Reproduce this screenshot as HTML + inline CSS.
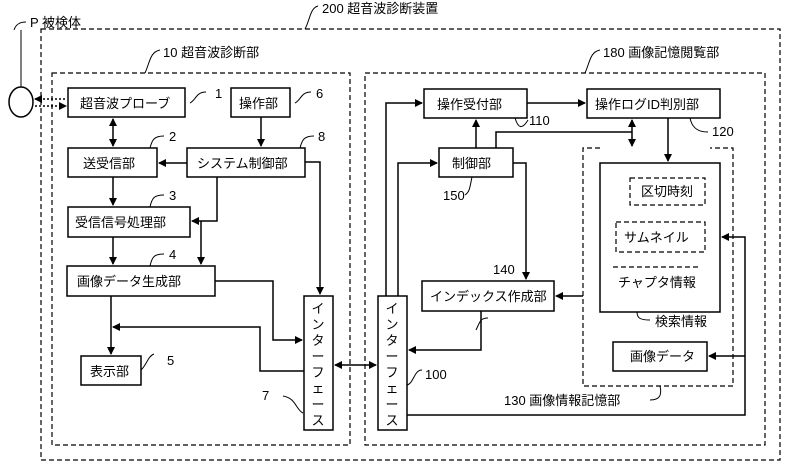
<!DOCTYPE html><html><head><meta charset="utf-8"><style>body{margin:0;background:#fff}svg{display:block}text{font-family:"Liberation Sans","Noto Sans CJK JP",sans-serif;font-size:13px;fill:#000}</style></head><body>
<svg width="787" height="473" viewBox="0 0 787 473" xmlns="http://www.w3.org/2000/svg">
<defs><marker id="a" markerWidth="8" markerHeight="8" refX="7" refY="4" orient="auto" markerUnits="userSpaceOnUse"><path d="M0,0L8,4L0,8z" fill="#000"/></marker>
<marker id="b" markerWidth="8" markerHeight="8" refX="1" refY="4" orient="auto" markerUnits="userSpaceOnUse"><path d="M8,0L0,4L8,8z" fill="#000"/></marker></defs>
<g fill="none" stroke="#000" stroke-width="1.2" stroke-dasharray="5,3">
<rect x="41" y="29" width="739" height="431"/>
<rect x="52" y="73" width="298" height="372"/>
<rect x="365" y="73" width="400" height="372"/>
<path d="M600,148H583V386H733V148H710"/>
</g>
<g fill="none" stroke="#000" stroke-width="1">
<path d="M14,30C16,24 20,22 26,22M21,30V87"/>
<path d="M305,29C310,20 310,8 318,6"/>
<path d="M145,73C150,62 150,52 160,50"/>
<path d="M585,73C590,62 590,52 600,50"/>
<path d="M190,103C196,100 196,92 206,92"/>
<path d="M295,103C301,100 301,92 311,92"/>
<path d="M150,148C152,140 154,136 164,136"/>
<path d="M300,148C302,140 304,136 314,136"/>
<path d="M150,207C152,198 154,195 164,195"/>
<path d="M150,266C152,257 154,254 164,254"/>
<path d="M141,370C146,366 148,356 154,354"/>
<path d="M303,413C296,410 296,398 283,396"/>
<path d="M407,385C414,383 414,370 422,370"/>
<path d="M515,118C518,128 522,130 528,120"/>
<path d="M690,118C692,128 698,132 708,132"/>
<path d="M476,330C480,322 480,318 488,318"/>
<path d="M465,195C470,192 470,186 472,177"/>
<path d="M637,312C637,318 640,320 650,320"/>
<path d="M660,386C662,395 660,400 650,400"/>
</g>
<g fill="#fff" stroke="#000" stroke-width="1.5">
<ellipse cx="21" cy="102" rx="12" ry="15"/>
<rect x="68" y="88" width="117" height="29"/>
<rect x="231" y="88" width="59" height="29"/>
<rect x="68" y="148" width="89" height="29"/>
<rect x="187" y="148" width="118" height="29"/>
<rect x="68" y="207" width="122" height="30"/>
<rect x="67" y="266" width="148" height="30"/>
<rect x="81" y="356" width="60" height="29"/>
<rect x="304" y="296" width="29" height="134"/>
<rect x="378" y="296" width="29" height="134"/>
<rect x="424" y="89" width="103" height="29"/>
<rect x="587" y="89" width="133" height="29"/>
<rect x="439" y="148" width="74" height="29"/>
<rect x="422" y="281" width="132" height="30"/>
<rect x="600" y="163" width="120" height="149"/>
<rect x="613" y="342" width="94" height="29"/>
</g>
<g fill="none" stroke="#000" stroke-width="1.2" stroke-dasharray="5,3">
<rect x="630" y="178" width="75" height="27"/>
<rect x="616" y="222" width="89" height="30"/>
<path d="M613,267H700"/>
</g>
<g fill="none" stroke="#000" stroke-width="1.5">
<path d="M35,99H66" stroke-dasharray="2,2" marker-start="url(#b)"/>
<path d="M35,106H66" stroke-dasharray="2,2" marker-end="url(#a)"/>
<path d="M113,119V146" marker-start="url(#b)" marker-end="url(#a)"/>
<path d="M261,117V146" marker-end="url(#a)"/>
<path d="M187,163H159" marker-end="url(#a)"/>
<path d="M113,177V205" marker-end="url(#a)"/>
<path d="M217,177V221H192" marker-end="url(#a)"/>
<path d="M201,221V264" marker-end="url(#a)"/>
<path d="M113,237V264" marker-end="url(#a)"/>
<path d="M305,162H320V294" marker-end="url(#a)"/>
<path d="M215,281H273V340H302" marker-end="url(#a)"/>
<path d="M111,296V354" marker-end="url(#a)"/>
<path d="M304,371H260V327H113" marker-end="url(#a)"/>
<path d="M335,365H376" marker-start="url(#b)" marker-end="url(#a)"/>
<path d="M386,296V103H422" marker-end="url(#a)"/>
<path d="M398,296V163H437" marker-end="url(#a)"/>
<path d="M476,148V120" marker-end="url(#a)"/>
<path d="M496,148V132H632"/>
<path d="M632,132V120" marker-end="url(#a)"/>
<path d="M632,132V146" marker-end="url(#a)"/>
<path d="M527,103H585" marker-end="url(#a)"/>
<path d="M668,118V161" marker-end="url(#a)"/>
<path d="M513,163H526V279" marker-end="url(#a)"/>
<path d="M481,311V350H409" marker-end="url(#a)"/>
<path d="M583,296H556" marker-end="url(#a)"/>
<path d="M407,415H745V237H722" marker-end="url(#a)"/>
<path d="M745,356H709" marker-end="url(#a)"/>
</g>
<text x="30" y="27">P  被検体</text>
<text x="322" y="13">200  超音波診断装置</text>
<text x="163" y="57">10  超音波診断部</text>
<text x="603" y="57">180  画像記憶閲覧部</text>
<text x="80" y="108">超音波プローブ</text>
<text x="215" y="98">1</text>
<text x="239" y="108">操作部</text>
<text x="316" y="98">6</text>
<text x="83" y="168">送受信部</text>
<text x="169" y="141">2</text>
<text x="197" y="168">システム制御部</text>
<text x="318" y="141">8</text>
<text x="75" y="227">受信信号処理部</text>
<text x="169" y="200">3</text>
<text x="77" y="286">画像データ生成部</text>
<text x="169" y="259">4</text>
<text x="90" y="376">表示部</text>
<text x="167" y="365">5</text>
<text x="262" y="400">7</text>
<text x="437" y="109">操作受付部</text>
<text x="595" y="109">操作ログID判別部</text>
<text x="529" y="125">110</text>
<text x="712" y="136">120</text>
<text x="452" y="168">制御部</text>
<text x="443" y="200">150</text>
<text x="493" y="274">140</text>
<text x="430" y="301">インデックス作成部</text>
<text x="425" y="379">100</text>
<text x="641" y="196">区切時刻</text>
<text x="624" y="242">サムネイル</text>
<text x="618" y="287">チャプタ情報</text>
<text x="655" y="326">検索情報</text>
<text x="630" y="361">画像データ</text>
<text x="504" y="405">130  画像情報記憶部</text>
<g text-anchor="middle">
<text x="318" y="313">イ</text><text x="318" y="329">ン</text><text x="318" y="345">タ</text><text x="318" y="361">ー</text><text x="318" y="377">フ</text><text x="318" y="393">ェ</text><text x="318" y="409">ー</text><text x="318" y="425">ス</text>
<text x="392" y="313">イ</text><text x="392" y="329">ン</text><text x="392" y="345">タ</text><text x="392" y="361">ー</text><text x="392" y="377">フ</text><text x="392" y="393">ェ</text><text x="392" y="409">ー</text><text x="392" y="425">ス</text>
</g>
</svg></body></html>
